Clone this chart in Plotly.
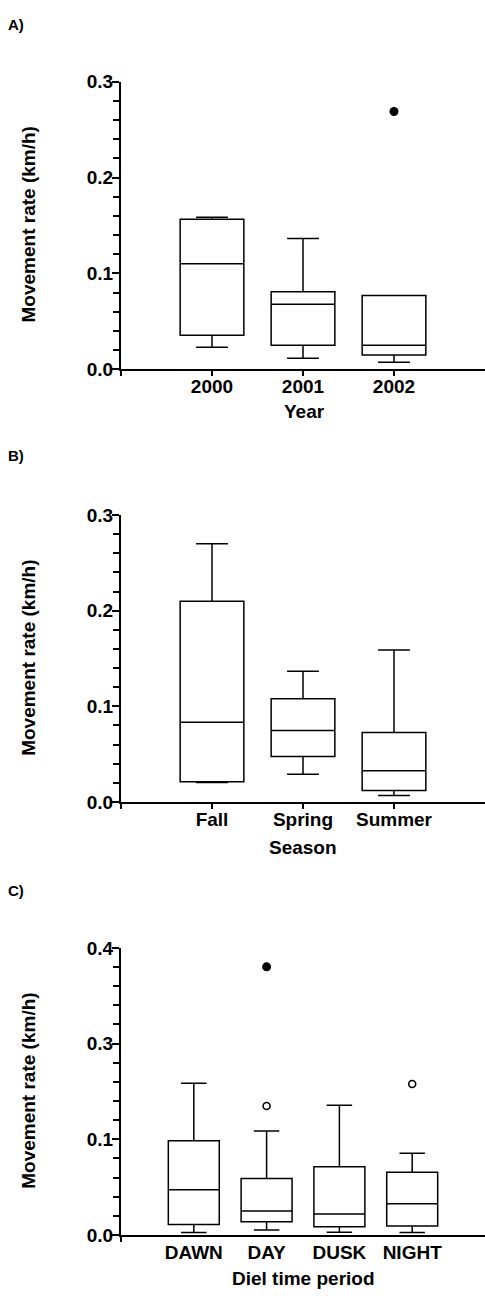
import plotly.graph_objects as go

# ---------------- data (plotted units, km/h) ----------------
# Panel A: by year
years = ["2000", "2001", "2002"]
year_low = [0.0229, 0.0113, 0.0072]
year_q1 = [0.0353, 0.0250, 0.0147]
year_med = [0.1100, 0.0678, 0.0250]
year_q3 = [0.1565, 0.0809, 0.0768]
year_high = [0.1585, 0.1364, 0.0768]
year_out_x = [2]
year_out_y = [0.269]

# Panel B: by season
seasons = ["Fall", "Spring", "Summer"]
season_low = [0.0203, 0.0291, 0.0069]
season_q1 = [0.0213, 0.0476, 0.0120]
season_med = [0.0833, 0.0748, 0.0326]
season_q3 = [0.2099, 0.1080, 0.0727]
season_high = [0.2700, 0.1368, 0.1588]

# Panel C: by diel period (axis labelled 0.0, 0.1, 0.3, 0.4)
periods = ["DAWN", "DAY", "DUSK", "NIGHT"]
diel_low = [0.0024, 0.0051, 0.0027, 0.0024]
diel_q1 = [0.0110, 0.0137, 0.0086, 0.0093]
diel_med = [0.0473, 0.0250, 0.0219, 0.0326]
diel_q3 = [0.0984, 0.0590, 0.0713, 0.0655]
diel_high = [0.1584, 0.1087, 0.1355, 0.0854]
diel_filled_x = [1]
diel_filled_y = [0.2802]
diel_open_x = [1, 3]
diel_open_y = [0.1348, 0.1577]

yticks_ab = ["0.0", "0.1", "0.2", "0.3"]
yticks_c = ["0.0", "0.1", "0.3", "0.4"]

FONT = "Liberation Sans, Arial, sans-serif"
W, H = 485, 1301

fig = go.Figure()


def add_boxes(q1, med, q3, lo, hi, xa, ya):
    fig.add_trace(go.Box(
        x=list(range(len(q1))), q1=q1, median=med, q3=q3,
        lowerfence=lo, upperfence=hi,
        width=0.7, whiskerwidth=0.5, boxpoints=False,
        fillcolor="white", line=dict(color="black", width=1.5),
        xaxis=xa, yaxis=ya, hoverinfo="skip"))


add_boxes(year_q1, year_med, year_q3, year_low, year_high, "x", "y")
fig.add_trace(go.Scatter(x=year_out_x, y=year_out_y, mode="markers",
                         marker=dict(color="black", size=9, symbol="circle"),
                         xaxis="x", yaxis="y", cliponaxis=False))
add_boxes(season_q1, season_med, season_q3, season_low, season_high, "x2", "y2")
add_boxes(diel_q1, diel_med, diel_q3, diel_low, diel_high, "x3", "y3")
fig.add_trace(go.Scatter(x=diel_filled_x, y=diel_filled_y, mode="markers",
                         marker=dict(color="black", size=9, symbol="circle"),
                         xaxis="x3", yaxis="y3", cliponaxis=False))
fig.add_trace(go.Scatter(x=diel_open_x, y=diel_open_y, mode="markers",
                         marker=dict(color="black", size=7, symbol="circle-open",
                                     line=dict(width=1.6, color="black")),
                         xaxis="x3", yaxis="y3", cliponaxis=False))

xdom = [121 / W, 1.0]


def ydom(top_px, bot_px):
    return [1 - bot_px / H, 1 - top_px / H]


tickfont = dict(family=FONT, size=19, color="black", weight="bold")

common_y = dict(range=[0, 0.3], showgrid=False, zeroline=False, showline=True,
                linecolor="black", linewidth=2, ticks="outside", ticklen=7,
                tickwidth=1.5, tickcolor="black", tickvals=[0, 0.1, 0.2, 0.3],
                tickfont=tickfont, ticklabelstandoff=-5,
                minor=dict(ticks="outside", dtick=0.02, ticklen=6, tickwidth=1.5,
                           tickcolor="black", showgrid=False))

common_x = dict(showgrid=False, zeroline=False, showline=True, linecolor="black",
                linewidth=2, ticks="outside", ticklen=5, tickwidth=1.5,
                tickcolor="black", tickfont=tickfont, ticklabelstandoff=-6)

fig.update_layout(
    width=W, height=H, margin=dict(l=0, r=0, t=0, b=0),
    paper_bgcolor="white", plot_bgcolor="white", showlegend=False,
    xaxis=dict(common_x, domain=xdom, range=[-1, 3], anchor="y",
               tickvals=[-1, 0, 1, 2], ticktext=[""] + years),
    yaxis=dict(common_y, domain=ydom(73, 365), anchor="x", ticktext=yticks_ab),
    xaxis2=dict(common_x, domain=xdom, range=[-1, 3], anchor="y2",
                tickvals=[-1, 0, 1, 2], ticktext=[""] + seasons),
    yaxis2=dict(common_y, domain=ydom(513.3, 805), anchor="x2", ticktext=yticks_ab),
    xaxis3=dict(common_x, domain=xdom, range=[-1, 4], anchor="y3",
                tickvals=[0, 1, 2, 3], ticktext=periods,
                tickcolor="rgba(0,0,0,0)",
                minor=dict(ticks="outside", tick0=-1, dtick=100, ticklen=5,
                           tickwidth=1.5, tickcolor="black", showgrid=False)),
    yaxis3=dict(common_y, domain=ydom(953.3, 1245), anchor="x3", ticktext=yticks_c),
)

ann_font = dict(family=FONT, size=19, color="black", weight="bold")
panel_font = dict(family=FONT, size=15, color="black", weight="bold")


def ann(text, x, y, font, angle=0, xanchor="center"):
    fig.add_annotation(text=text, x=x / W, y=1 - y / H, xref="paper", yref="paper",
                       showarrow=False, font=font, textangle=angle,
                       xanchor=xanchor, yanchor="middle")


ann("A)", 6, 15, panel_font, xanchor="left")
ann("B)", 6, 453, panel_font, xanchor="left")
ann("C)", 6, 895, panel_font, xanchor="left")
for yc in [218.5, 659, 1099]:
    ann("Movement rate (km/h)", 28.5, yc, ann_font, angle=-90)
ann("Year", 304, 408, ann_font)
ann("Season", 303, 851, ann_font)
ann("Diel time period", 303, 1289, ann_font)

fig.write_html("out.html",
               config={"displayModeBar": False},
               post_script="document.body.style.margin='0';"
                           "document.body.style.overflow='hidden';")
